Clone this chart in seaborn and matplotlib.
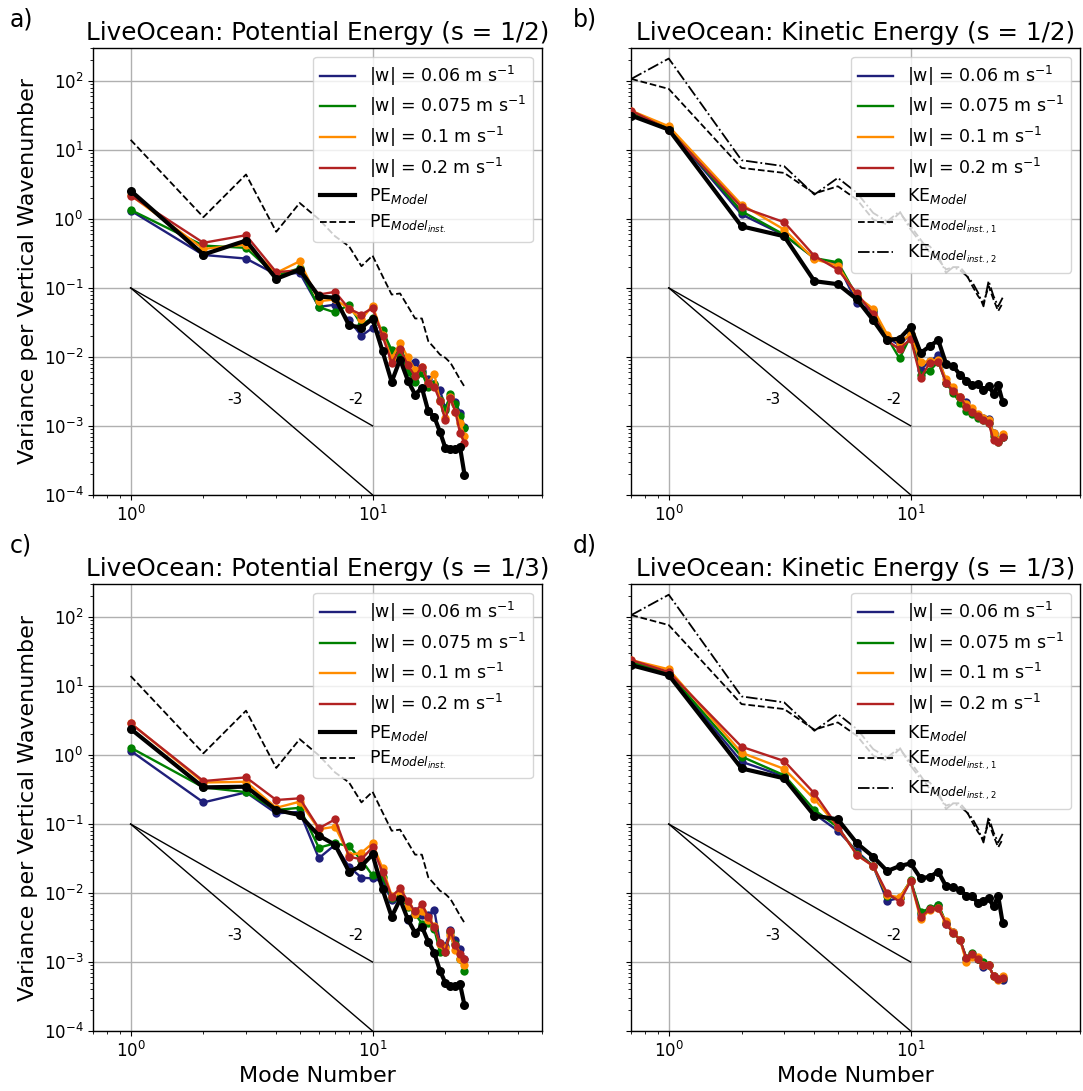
import numpy as np
import pandas as pd
import matplotlib
matplotlib.use("Agg")
import matplotlib.pyplot as plt
from matplotlib.lines import Line2D
import seaborn as sns

# ---------------- data ----------------
pe_modes = list(range(1, 25))
ke_modes = [0.7] + list(range(1, 25))

w_labels = [r"|w| = 0.06 m s$^{-1}$", r"|w| = 0.075 m s$^{-1}$",
            r"|w| = 0.1 m s$^{-1}$", r"|w| = 0.2 m s$^{-1}$"]
w_colors = ["#1f1f7a", "#008000", "#ff8c00", "#b22222"]

# Panel a: PE, s = 1/2
pe_a_w006 = [1.32, 0.30, 0.266, 0.156, 0.165, 0.053, 0.057, 0.034, 0.0202, 0.0263, 0.021, 0.0105,
             0.0125, 0.0082, 0.0084, 0.0062, 0.0047, 0.0040, 0.0033, 0.0018, 0.0026, 0.0022, 0.00155, 0.00095]
pe_a_w0075 = [1.35, 0.41, 0.38, 0.15, 0.193, 0.0525, 0.044, 0.057, 0.029, 0.037, 0.0243, 0.0125,
              0.0105, 0.0060, 0.0043, 0.0058, 0.0036, 0.0040, 0.0024, 0.0017, 0.0029, 0.0021, 0.0014, 0.00092]
pe_a_w01 = [2.2, 0.367, 0.425, 0.165, 0.243, 0.064, 0.068, 0.05, 0.0348, 0.0555, 0.021, 0.0095,
            0.016, 0.0098, 0.0065, 0.0072, 0.0042, 0.0057, 0.0023, 0.0013, 0.0026, 0.0016, 0.0011, 0.00072]
pe_a_w02 = [2.18, 0.45, 0.58, 0.169, 0.18, 0.08, 0.0875, 0.0497, 0.041, 0.051, 0.020, 0.0082,
            0.0128, 0.0076, 0.0052, 0.0072, 0.0042, 0.0037, 0.0023, 0.00121, 0.0025, 0.0016, 0.00079, 0.00057]
pe_a_model = [2.57, 0.304, 0.485, 0.135, 0.184, 0.075, 0.072, 0.0286, 0.0266, 0.0355, 0.0121, 0.00434,
              0.00915, 0.00454, 0.00284, 0.00356, 0.00163, 0.00135, 0.00082, 0.00048, 0.000454, 0.000469,
              0.00049, 0.000197]

# PE instantaneous (same in both PE panels)
pe_inst = [14.0, 1.06, 4.4, 0.65, 1.7, 0.99, 0.56, 0.40, 0.206, 0.294, 0.148, 0.080,
           0.083, 0.054, 0.036, 0.036, 0.0169, 0.0135, 0.0108, 0.0097, 0.0082, 0.0062, 0.0047, 0.0037]

# Panel c: PE, s = 1/3
pe_c_w006 = [1.155, 0.206, 0.288, 0.143, 0.15, 0.032, 0.05, 0.024, 0.0167, 0.0163, 0.0146, 0.0079,
             0.0085, 0.0041, 0.0055, 0.0048, 0.0048, 0.0057, 0.0019, 0.0017, 0.0029, 0.0021, 0.00153, 0.0011]
pe_c_w0075 = [1.28, 0.34, 0.29, 0.16, 0.172, 0.0454, 0.0526, 0.048, 0.030, 0.018, 0.017, 0.0085,
              0.0089, 0.0063, 0.0050, 0.0036, 0.0037, 0.0030, 0.00141, 0.00141, 0.0027, 0.0018, 0.0011, 0.00075]
pe_c_w01 = [2.9, 0.40, 0.41, 0.172, 0.211, 0.084, 0.0915, 0.0355, 0.0384, 0.0525, 0.0228, 0.0092,
            0.0105, 0.0065, 0.0050, 0.0055, 0.0040, 0.0033, 0.0018, 0.0016, 0.0025, 0.0015, 0.0011, 0.00091]
pe_c_w02 = [2.88, 0.42, 0.475, 0.223, 0.236, 0.0866, 0.117, 0.0336, 0.0308, 0.046, 0.020, 0.0089,
            0.0117, 0.0076, 0.0054, 0.0069, 0.0045, 0.0032, 0.0019, 0.0014, 0.00284, 0.00175, 0.0013, 0.0011]
pe_c_model = [2.4, 0.34, 0.348, 0.16, 0.135, 0.068, 0.05, 0.0204, 0.0246, 0.0362, 0.0113, 0.00454,
              0.0081, 0.00415, 0.00266, 0.00325, 0.00197, 0.00136, 0.00075, 0.0005, 0.000454, 0.000454,
              0.00048, 0.000237]

# Panel b: KE, s = 1/2
ke_b_w006 = [34, 20.5, 1.16, 0.58, 0.27, 0.22, 0.0606, 0.045, 0.019, 0.0148, 0.0218, 0.0065, 0.0087,
             0.0105, 0.0042, 0.0033, 0.0026, 0.0022, 0.0016, 0.0014, 0.0013, 0.00125, 0.00079, 0.0006, 0.00068]
ke_b_w0075 = [35, 21, 1.29, 0.59, 0.27, 0.235, 0.075, 0.047, 0.019, 0.0095, 0.020, 0.0055, 0.0063,
              0.0085, 0.0042, 0.0030, 0.00215, 0.00163, 0.0015, 0.0013, 0.0012, 0.0011, 0.00072, 0.00058, 0.00068]
ke_b_w01 = [37, 22, 1.61, 0.70, 0.26, 0.21, 0.075, 0.0497, 0.021, 0.0158, 0.0218, 0.0083, 0.0087,
            0.009, 0.0048, 0.0036, 0.0026, 0.0021, 0.0018, 0.0015, 0.0013, 0.0012, 0.00078, 0.00062, 0.00075]
ke_b_w02 = [37, 19.5, 1.48, 0.895, 0.29, 0.184, 0.083, 0.0416, 0.0173, 0.0128, 0.0184, 0.00496, 0.0082,
            0.0085, 0.0042, 0.0032, 0.0026, 0.0019, 0.0016, 0.0014, 0.0012, 0.0011, 0.00062, 0.00058, 0.00068]
ke_b_model = [31.4, 19.7, 0.78, 0.56, 0.125, 0.113, 0.068, 0.034, 0.0175, 0.0184, 0.0272, 0.0114, 0.0143,
              0.0175, 0.008, 0.0073, 0.0055, 0.00454, 0.00397, 0.004, 0.00336, 0.00376, 0.00294, 0.00389, 0.00223]

# KE instantaneous (same in both KE panels)
ke_inst1 = [107, 76.6, 5.48, 4.64, 2.33, 2.97, 1.9, 0.98, 0.83, 1.22, 0.78, 0.5, 0.32, 0.26, 0.185,
            0.2, 0.2, 0.156, 0.106, 0.076, 0.06, 0.106, 0.068, 0.046, 0.06]
ke_inst2 = [107, 211, 7.08, 5.8, 2.25, 3.93, 2.38, 1.22, 0.92, 1.29, 0.7, 0.45, 0.4, 0.29, 0.165,
            0.2, 0.18, 0.15, 0.12, 0.085, 0.054, 0.126, 0.076, 0.054, 0.072]

# Panel d: KE, s = 1/3
ke_d_w006 = [21, 15, 0.8, 0.49, 0.14, 0.08, 0.040, 0.0246, 0.0077, 0.0085, 0.0149, 0.005, 0.0058,
             0.0068, 0.0036, 0.0027, 0.0021, 0.0011, 0.00125, 0.0011, 0.00085, 0.0009, 0.00063, 0.00057, 0.00055]
ke_d_w0075 = [22.5, 15.5, 0.95, 0.51, 0.16, 0.09, 0.037, 0.025, 0.009, 0.0085, 0.0152, 0.0053, 0.006,
              0.0068, 0.0037, 0.0026, 0.0021, 0.00115, 0.00136, 0.0011, 0.001, 0.0009, 0.00063, 0.00057, 0.00058]
ke_d_w01 = [23.8, 17.5, 1.08, 0.63, 0.23, 0.0915, 0.0355, 0.0246, 0.0093, 0.0087, 0.0149, 0.00415, 0.0057,
            0.006, 0.0039, 0.0027, 0.0021, 0.00099, 0.0012, 0.0012, 0.0009, 0.0009, 0.00063, 0.00055, 0.00063]
ke_d_w02 = [23.8, 16, 1.32, 0.82, 0.278, 0.0915, 0.0355, 0.0246, 0.0099, 0.0075, 0.0149, 0.0045, 0.0058,
            0.006, 0.0036, 0.0026, 0.0021, 0.00113, 0.0013, 0.0011, 0.0009, 0.0009, 0.00063, 0.00057, 0.00058]
ke_d_model = [20.1, 14.4, 0.64, 0.46, 0.132, 0.117, 0.0525, 0.0336, 0.0208, 0.0246, 0.0269, 0.0163,
              0.0172, 0.0204, 0.0126, 0.0123, 0.011, 0.0092, 0.009, 0.0071, 0.0077, 0.0084, 0.0064, 0.0091, 0.0037]

# reference slopes
ref_x = [1, 10]
ref_slope2 = [1e-1, 1e-3]
ref_slope3 = [1e-1, 1e-4]

titles = ["LiveOcean: Potential Energy (s = 1/2)", "LiveOcean: Kinetic Energy (s = 1/2)",
          "LiveOcean: Potential Energy (s = 1/3)", "LiveOcean: Kinetic Energy (s = 1/3)"]
letters = ["a)", "b)", "c)", "d)"]

# ---------------- plotting ----------------
plt.rcParams["font.family"] = ["DejaVu Sans"]
plt.rcParams["mathtext.fontset"] = "dejavusans"

fig, axes = plt.subplots(2, 2, figsize=(10.83, 10.91), dpi=100)
fig.subplots_adjust(left=0.086, right=0.997, top=0.956, bottom=0.055, wspace=0.2, hspace=0.2)

panels = [
    dict(kind="PE", x=pe_modes, w=[pe_a_w006, pe_a_w0075, pe_a_w01, pe_a_w02], model=pe_a_model,
         inst=[pe_inst]),
    dict(kind="KE", x=ke_modes, w=[ke_b_w006, ke_b_w0075, ke_b_w01, ke_b_w02], model=ke_b_model,
         inst=[ke_inst1, ke_inst2]),
    dict(kind="PE", x=pe_modes, w=[pe_c_w006, pe_c_w0075, pe_c_w01, pe_c_w02], model=pe_c_model,
         inst=[pe_inst]),
    dict(kind="KE", x=ke_modes, w=[ke_d_w006, ke_d_w0075, ke_d_w01, ke_d_w02], model=ke_d_model,
         inst=[ke_inst1, ke_inst2]),
]

inst_styles = ["--", "-."]

for i, (ax, p) in enumerate(zip(axes.flat, panels)):
    ax.set_xscale("log")
    ax.set_yscale("log")
    x = p["x"]
    for k, ys in enumerate(p["inst"]):
        sns.lineplot(x=x, y=ys, ax=ax, color="black", linestyle=inst_styles[k], linewidth=1.3,
                     estimator=None, sort=False, legend=False, zorder=3)
    for ys, c in zip(p["w"], w_colors):
        sns.lineplot(x=x, y=ys, ax=ax, color=c, linewidth=1.7, marker="o", markersize=6,
                     markeredgewidth=0, estimator=None, sort=False, legend=False, zorder=4)
    sns.lineplot(x=x, y=p["model"], ax=ax, color="black", linewidth=3, marker="o", markersize=6.5,
                 markeredgewidth=0, estimator=None, sort=False, legend=False, zorder=5)
    sns.lineplot(x=ref_x, y=ref_slope2, ax=ax, color="black", linewidth=1, estimator=None,
                 legend=False, zorder=2)
    sns.lineplot(x=ref_x, y=ref_slope3, ax=ax, color="black", linewidth=1, estimator=None,
                 legend=False, zorder=2)
    ax.text(2.69, 2.4e-3, "-3", fontsize=11, ha="center", va="center")
    ax.text(8.5, 2.4e-3, "-2", fontsize=11, ha="center", va="center")

    ax.set_xlim(0.7, 50)
    ax.set_ylim(1e-4, 3e2)
    ax.grid(True, which="major", color="#b0b0b0", linewidth=1.0)
    ax.set_axisbelow(True)
    ax.tick_params(labelsize=12)
    ax.set_title(titles[i], fontsize=17.7)
    ax.set_xlabel("Mode Number" if i >= 2 else "", fontsize=16)
    if i % 2 == 0:
        ax.set_ylabel("Variance per Vertical Wavenumber", fontsize=16)
    else:
        ax.set_ylabel("")
        ax.tick_params(labelleft=False)
    for s in ax.spines.values():
        s.set_linewidth(1.0)

    handles = [Line2D([], [], color=c, linewidth=1.7) for c in w_colors]
    labels = list(w_labels)
    handles.append(Line2D([], [], color="black", linewidth=3))
    if p["kind"] == "PE":
        labels.append(r"PE$_{Model}$")
        handles.append(Line2D([], [], color="black", linestyle="--", linewidth=1.3))
        labels.append(r"PE$_{Model_{inst.}}$")
    else:
        labels.append(r"KE$_{Model}$")
        handles.append(Line2D([], [], color="black", linestyle="--", linewidth=1.3))
        labels.append(r"KE$_{Model_{inst.,1}}$")
        handles.append(Line2D([], [], color="black", linestyle="-.", linewidth=1.3))
        labels.append(r"KE$_{Model_{inst.,2}}$")
    ax.legend(handles, labels, loc="upper right", fontsize=12.5, framealpha=0.8, labelspacing=0.38)

letter_pos = [(0.009, 0.982), (0.529, 0.982), (0.009, 0.5), (0.529, 0.5)]
for (lx, ly), t in zip(letter_pos, letters):
    fig.text(lx, ly, t, fontsize=17, ha="left", va="center")

fig.savefig("out.png", dpi=100)
